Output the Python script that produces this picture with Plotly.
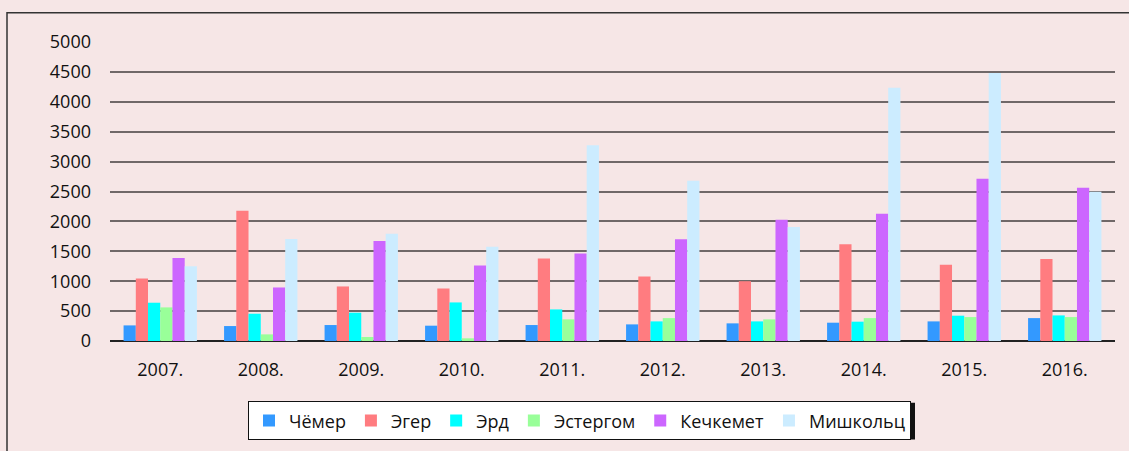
import plotly.graph_objects as go

years = ["2007.", "2008.", "2009.", "2010.", "2011.", "2012.", "2013.", "2014.", "2015.", "2016."]
series_names = ["Чёмер", "Эгер", "Эрд", "Эстергом", "Кечкемет", "Мишкольц"]

chomer = [261, 250, 267, 256, 267, 278, 295, 306, 328, 383]
eger = [1045, 2178, 912, 878, 1378, 1078, 1000, 1617, 1273, 1373]
erd = [640, 456, 473, 645, 528, 328, 328, 323, 423, 428]
esztergom = [562, 111, 67, 45, 362, 383, 362, 383, 400, 400]
kecskemet = [1390, 895, 1673, 1262, 1462, 1700, 2028, 2128, 2712, 2562]
miskolc = [1250, 1706, 1795, 1578, 3273, 2678, 1906, 4233, 4483, 2495]

colors = ["#3399FF", "#FF7C80", "#00FFFF", "#99FF99", "#CC66FF", "#CCECFF"]
values = [chomer, eger, erd, esztergom, kecskemet, miskolc]

fig = go.Figure()
for name, vals, col in zip(series_names, values, colors):
    fig.add_trace(go.Bar(
        x=years, y=vals, name=name,
        marker=dict(color=col, line=dict(width=0)),
    ))

W, H = 1129, 451
L, R, T, B = 110, 14, 41.5, 109
pw, ph = W - L - R, H - T - B

def px(x):
    return (x - L) / pw

def py(y):
    return (H - B - y) / ph

fig.update_layout(
    width=W, height=H,
    margin=dict(l=L, r=R, t=T, b=B),
    paper_bgcolor="#F6E6E6",
    plot_bgcolor="#F6E6E6",
    barmode="group",
    bargap=0.27,
    bargroupgap=0,
    font=dict(family="Open Sans", size=18, color="#111111"),
    showlegend=True,
    legend=dict(
        orientation="h",
        x=px(248), y=py(401.5), xanchor="left", yanchor="top",
        bgcolor="white", bordercolor="#111111", borderwidth=1,
        font=dict(size=18, color="#111111"),
        itemwidth=30,
        traceorder="normal",
    ),
    xaxis=dict(
        showgrid=False, showline=False, ticks="",
        tickfont=dict(size=18), ticklabelstandoff=16,
    ),
    yaxis=dict(
        range=[0, 5000], dtick=500, tick0=0,
        showgrid=True, gridcolor="#706868", gridwidth=1.5,
        zeroline=True, zerolinecolor="#222222", zerolinewidth=1.5,
        showline=False, ticks="",
        tickfont=dict(size=18), ticklabelstandoff=18,
    ),
    shapes=[
        dict(type="rect", xref="paper", yref="paper",
             x0=px(7), x1=px(1140), y0=py(460), y1=py(12),
             line=dict(color="#333333", width=1.5), fillcolor="rgba(0,0,0,0)", layer="below"),
        dict(type="rect", xref="paper", yref="paper",
             x0=px(251), x1=px(915), y0=py(441), y1=py(404),
             line=dict(width=0), fillcolor="#111111", layer="above"),
    ],
)

fig.write_html("out.html", config={"displayModeBar": False},
               post_script="document.body.style.margin='0';")
